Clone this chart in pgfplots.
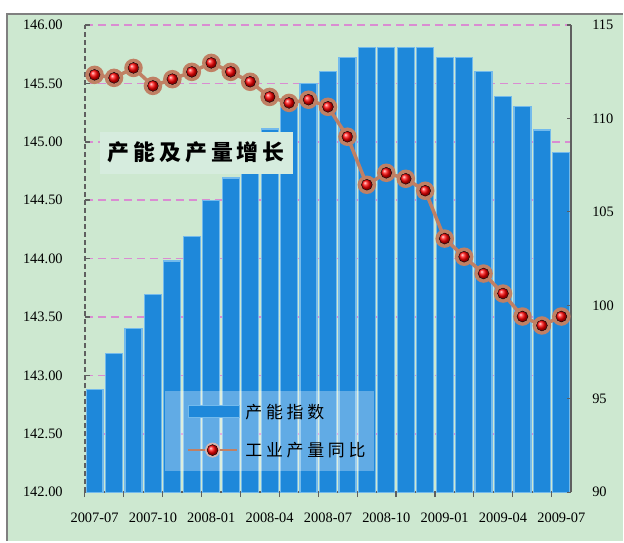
\documentclass[border=0pt]{standalone}
\usepackage{pgfplots}
\pgfplotsset{compat=1.18}
\usepackage{pgfplotstable}
\usepackage{fontspec}
\setmainfont{Liberation Serif}
\newfontfamily\cjk{Noto Sans CJK SC}

\definecolor{bggreen}{RGB}{205,232,208}
\definecolor{bordergrey}{RGB}{128,128,128}
\definecolor{barblue}{RGB}{30,136,218}
\definecolor{baredge}{RGB}{115,186,236}
\definecolor{gridpink}{RGB}{218,140,210}
\definecolor{axisgrey}{RGB}{95,95,95}
\definecolor{linebrown}{RGB}{192,128,100}
\definecolor{halo}{RGB}{236,182,166}
\definecolor{titlebg}{RGB}{214,236,222}

\pgfplotstableread{
idx cap
0 142.88
1 143.19
2 143.40
3 143.69
4 143.98
5 144.19
6 144.50
7 144.69
8 144.73
9 145.11
10 145.29
11 145.50
12 145.60
13 145.72
14 145.81
15 145.81
16 145.81
17 145.81
18 145.72
19 145.72
20 145.60
21 145.39
22 145.30
23 145.10
24 144.91
}\captable

\pgfplotstableread{
idx yoy
0 112.33
1 112.17
2 112.70
3 111.74
4 112.10
5 112.49
6 112.97
7 112.49
8 111.96
9 111.15
10 110.83
11 111.00
12 110.62
13 109.02
14 106.45
15 107.09
16 106.77
17 106.13
18 103.57
19 102.60
20 101.70
21 100.63
22 99.40
23 98.92
24 99.40
}\yoytable

\begin{document}
\begin{tikzpicture}
\fill[bggreen] (7bp,0bp) rectangle (624bp,528bp);
\draw[bordergrey, line width=2bp] (7bp,0bp) -- (7bp,528bp) -- (624bp,528bp);
\path[use as bounding box] (0bp,0bp) rectangle (624bp,542bp);

\begin{axis}[
  at={(85bp,49bp)}, anchor=south west,
  scale only axis, width=487bp, height=468bp,
  xmin=-0.5, xmax=24.5, ymin=142, ymax=146,
  axis x line*=bottom, axis y line*=left,
  x axis line style={-, line width=2.5bp, draw=axisgrey},
  y axis line style={-, line width=1.5bp, draw=axisgrey, dash pattern=on 5bp off 3bp},
  tick align=inside, major tick length=5bp,
  xtick={-0.5,1.5,...,23.5}, xticklabels={},
  xtick style={draw=axisgrey, line width=1.2bp, yshift=-5bp},
  ytick style={draw=axisgrey, line width=1.5bp},
  extra x ticks={0,3,...,24},
  extra x tick labels={2007-07,2007-10,2008-01,2008-04,2008-07,2008-10,2009-01,2009-04,2009-07},
  extra x tick style={xtick style={draw=none}, grid=none},
  ytick={142,142.5,...,146},
  ymajorgrids,
  grid style={gridpink, line width=1.5bp, dash pattern=on 8bp off 5bp},
  /pgf/number format/assume math mode=true,
  tick label style={font=\fontsize{14.5}{16}\selectfont, black},
  yticklabel style={/pgf/number format/fixed, /pgf/number format/fixed zerofill, /pgf/number format/precision=2, anchor=east, inner sep=0pt, xshift=-22bp},
  xticklabel style={anchor=north, inner sep=0pt, yshift=-21bp},
]
\addplot[ybar, bar width=17bp, fill=barblue, draw=baredge, line width=1.2bp] table[x=idx, y=cap] {\captable};
\end{axis}

\begin{axis}[
  at={(85bp,49bp)}, anchor=south west,
  scale only axis, width=487bp, height=468bp,
  xmin=-0.5, xmax=24.5, ymin=90, ymax=115,
  axis x line=none, axis y line*=right,
  y axis line style={-, line width=2bp, draw=axisgrey},
  ytick={90,95,...,115}, tick align=inside, major tick length=4bp,
  ytick style={draw=axisgrey, line width=1.2bp},
  /pgf/number format/assume math mode=true,
  tick label style={font=\fontsize{14.5}{16}\selectfont, black},
  yticklabel style={anchor=west, inner sep=0pt, xshift=21bp},
  legend style={at={(rel axis cs:0.1643,0.2179)}, anchor=north west,
    fill=white, fill opacity=0.3, draw opacity=0, text opacity=1,
    inner xsep=9bp, inner ysep=13bp, row sep=22bp, column sep=6bp,
    nodes={inner sep=0pt, anchor=west},
    font=\cjk\fontsize{17}{19}\selectfont\addfontfeature{LetterSpace=22}},
  legend cell align=left,
]
\addlegendimage{legend image code/.code={
  \path (0bp,-8bp) rectangle (65bp,8bp);
  \fill[barblue, fill opacity=1] (14bp,-6bp) rectangle (65bp,6bp);
  \draw[baredge, draw opacity=1, line width=0.8bp] (14bp,-6bp) rectangle (65bp,6bp);}}
\addlegendimage{legend image code/.code={
  \path (0bp,-8bp) rectangle (63bp,8bp);
  \draw[linebrown, draw opacity=1, line width=2.5bp] (14bp,0bp) -- (63bp,0bp);
  \fill[halo, fill opacity=0.85] (38.5bp,0bp) circle (7.5bp);
  \shade[ball color=red, fill opacity=1, opacity=1] (38.5bp,0bp) circle (5.5bp);}}
\addplot[forget plot, linebrown, line width=3.5bp, mark=*, mark size=7.5bp,
  mark options={fill=halo, draw=none, solid, fill opacity=0.85}] table[x=idx, y=yoy] {\yoytable};
\addplot[forget plot, only marks, mark=ball, mark size=5.5bp, mark options={ball color=red}] table[x=idx, y=yoy] {\yoytable};
\legend{产能指数,工业产量同比}
\end{axis}

\node[fill=titlebg, inner sep=0pt, minimum width=193bp, minimum height=42bp] at (196.5bp,389bp)
  {\cjk\bfseries\fontsize{22}{24}\selectfont\addfontfeature{LetterSpace=18}产能及产量增长};
\end{tikzpicture}
\end{document}
